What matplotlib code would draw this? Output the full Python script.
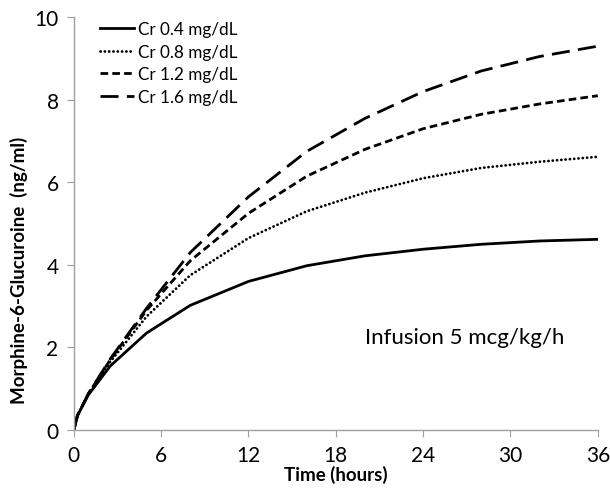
import matplotlib
matplotlib.use("Agg")
import matplotlib.pyplot as plt

plt.rcParams['font.family'] = ['Lato', 'DejaVu Sans']
plt.rcParams['lines.scale_dashes'] = False

## DATA ##
time_h = [0, 0.25, 1, 2.5, 5, 8, 12, 16, 20, 24, 28, 32, 36]
cr_04 = [0, 0.35, 0.85, 1.55, 2.35, 3.02, 3.6, 3.98, 4.22, 4.38, 4.5, 4.58, 4.62]
cr_08 = [0, 0.35, 0.87, 1.65, 2.75, 3.75, 4.65, 5.3, 5.75, 6.1, 6.35, 6.5, 6.62]
cr_12 = [0, 0.35, 0.88, 1.7, 2.9, 4.1, 5.25, 6.15, 6.8, 7.3, 7.65, 7.9, 8.1]
cr_16 = [0, 0.35, 0.88, 1.72, 2.95, 4.3, 5.65, 6.75, 7.55, 8.2, 8.7, 9.05, 9.3]
labels = ["Cr 0.4 mg/dL", "Cr 0.8 mg/dL", "Cr 1.2 mg/dL", "Cr 1.6 mg/dL"]
x_ticks = [0, 6, 12, 18, 24, 30, 36]
y_ticks = [0, 2, 4, 6, 8, 10]

fig = plt.figure(figsize=(6.10, 4.89), dpi=100)
ax = fig.add_axes([0.121, 0.1186, 0.859, 0.844])

ax.plot(time_h, cr_04, color="black", lw=2.0, label=labels[0])
ax.plot(time_h, cr_08, color="black", lw=2.0, linestyle=(0, (0.1, 3.0)),
        dash_capstyle="round", label=labels[1])
ax.plot(time_h, cr_12, color="black", lw=2.0, linestyle=(0, (5.5, 3.0)),
        label=labels[2])
ax.plot(time_h, cr_16, color="black", lw=2.0, linestyle=(0, (13, 6)),
        label=labels[3])

ax.set_xlim(0, 36)
ax.set_ylim(0, 10)
ax.set_xticks(x_ticks)
ax.set_yticks(y_ticks)

for side in ["top", "right"]:
    ax.spines[side].set_visible(False)
for side in ["left", "bottom"]:
    ax.spines[side].set_color("#a0a0a0")
    ax.spines[side].set_linewidth(1.0)
ax.tick_params(axis="both", direction="out", length=5, color="#a0a0a0",
               labelsize=15, pad=6)

ax.set_xlabel("Time (hours)", fontsize=13.5, fontweight="bold", labelpad=0)
ax.set_ylabel("Morphine-6-Glucuroine  (ng/ml)", fontsize=13.5,
              fontweight="bold")
ax.yaxis.set_label_coords(-0.088, 0.39)

ax.legend(loc="upper left", bbox_to_anchor=(0.05, 0.99), frameon=False,
          fontsize=12.3, handlelength=2.0, handletextpad=0.2,
          labelspacing=0.38, borderaxespad=0, borderpad=0)

ax.text(26.86, 2.25, "Infusion 5 mcg/kg/h", fontsize=16, ha="center",
        va="center")

fig.savefig("out.png", dpi=100)
